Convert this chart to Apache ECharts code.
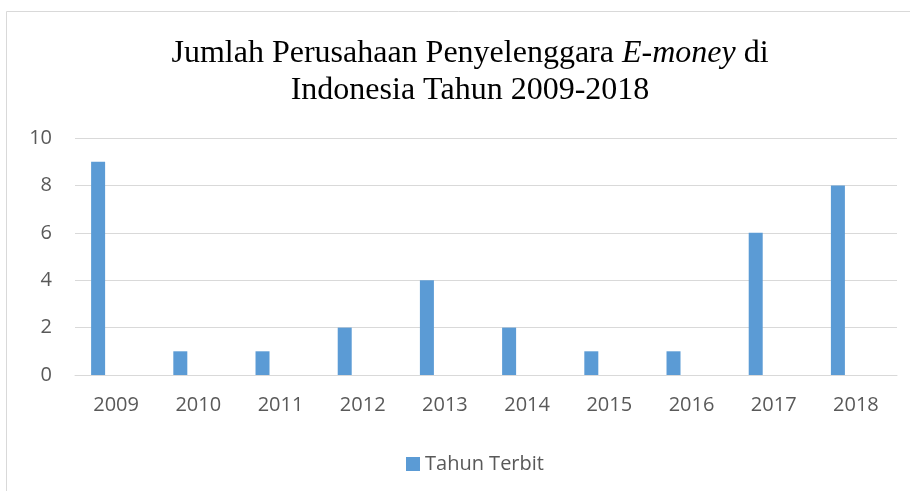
<!DOCTYPE html>
<html>
<head>
<meta charset="utf-8">
<script src="https://cdn.jsdelivr.net/npm/echarts@6/dist/echarts.min.js"></script>
<style>
  html, body { margin: 0; padding: 0; background: #fff; }
  #chart { width: 910px; height: 491px; }
</style>
</head>
<body>
<div id="chart"></div>
<script>
const years = ['2009', '2010', '2011', '2012', '2013', '2014', '2015', '2016', '2017', '2018'];
const tahunTerbit = [9, 1, 1, 2, 4, 2, 1, 1, 6, 8];
const yTicks = [0, 2, 4, 6, 8, 10];

const chart = echarts.init(document.getElementById('chart'));
const labelColor = '#595959';
const gridColor = '#d9d9d9';

const option = {
    backgroundColor: '#fff',
    animation: false,
    graphic: [{
        type: 'rect',
        shape: { x: 6.5, y: 11.5, width: 1000, height: 1000 },
        style: { fill: 'none', stroke: '#d9d9d9', lineWidth: 1 },
        silent: true
    }],
    title: {
        text: '{a|Jumlah Perusahaan Penyelenggara }{b|E-money}{a| di}\n{a|Indonesia Tahun 2009-2018}',
        left: 465,
        top: 30,
        textAlign: 'center',
        textStyle: {
            rich: {
                a: { fontFamily: 'Liberation Serif', fontSize: 32, fontWeight: 'normal', color: '#000', lineHeight: 37 },
                b: { fontFamily: 'Liberation Serif', fontSize: 32, fontWeight: 'normal', color: '#000', fontStyle: 'italic', lineHeight: 37 }
            }
        }
    },
    legend: {
        data: ['Tahun Terbit'],
        top: 449,
        left: 401,
        icon: 'rect',
        itemWidth: 14,
        itemHeight: 14,
        itemGap: 6,
        textStyle: { color: labelColor, fontSize: 20, fontFamily: 'Open Sans' }
    },
    grid: {
        left: 75,
        right: 13,
        top: 138,
        bottom: 116,
        containLabel: false
    },
    xAxis: {
        type: 'category',
        data: years,
        axisLine: { show: true, lineStyle: { color: gridColor } },
        axisTick: { show: false },
        axisLabel: { color: labelColor, fontSize: 20, fontFamily: 'Open Sans', margin: 20 }
    },
    yAxis: {
        type: 'value',
        min: yTicks[0],
        max: yTicks[yTicks.length - 1],
        interval: 2,
        axisLine: { show: false },
        axisTick: { show: false },
        splitLine: { lineStyle: { color: gridColor, width: 1 } },
        axisLabel: { color: labelColor, fontSize: 20, fontFamily: 'Open Sans', margin: 23 }
    },
    series: [
        {
            name: 'Tahun Terbit',
            type: 'bar',
            data: tahunTerbit,
            barWidth: 14,
            barGap: '157%',
            itemStyle: { color: '#5b9bd5' }
        },
        {
            name: 'kosong',
            type: 'bar',
            data: [],
            barWidth: 14
        }
    ]
};
chart.setOption(option);
</script>
</body>
</html>
